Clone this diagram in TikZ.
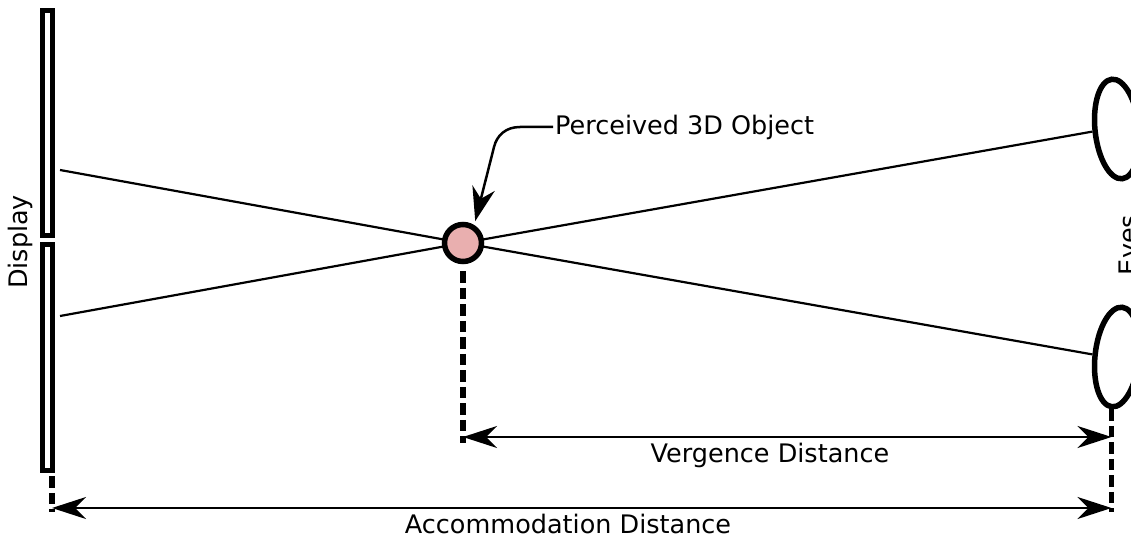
\documentclass[tikz,border=0pt]{standalone}
\usepackage{fontspec}
\setmainfont{DejaVu Sans}
\usetikzlibrary{arrows.meta, shapes.geometric}
\definecolor{objpink}{RGB}{233,175,175}

\begin{document}
\begin{tikzpicture}[x=1pt, y=-1pt, font=\fontsize{25.5}{30}\selectfont]
        \tikzset{
            panel/.style={draw=black, fill=white, line width=5.5pt, minimum width=10pt, inner sep=0pt},
            eye/.style={ellipse, draw=black, fill=white, line width=5.5pt, minimum width=44pt, minimum height=100pt, inner sep=0pt},
            object/.style={circle, draw=black, fill=objpink, line width=5.5pt, minimum size=37pt, inner sep=0pt},
            ray/.style={draw=black, line width=2.2pt},
            guide/.style={draw=black, line width=5.5pt, dash pattern=on 11.5pt off 5pt},
            measure/.style={line width=2.2pt, {Stealth[length=34pt, width=22pt, inset=11pt]}-{Stealth[length=34pt, width=22pt, inset=11pt]}},
            callout/.style={line width=2.5pt, -{Stealth[length=34pt, width=23pt, inset=11pt]}}
        }
        \useasboundingbox (0,0) rectangle (1131,540);

        \node[panel, minimum height=225pt] (dispU) at (47.5,123) {};
        \node[panel, minimum height=226pt] (dispL) at (47.5,357.5) {};
        \node[rotate=90] (dispLbl) at (20,242) {Display};

        \node[eye, rotate=6] (eyeU) at (1117,129) {};
        \node[eye, rotate=-6] (eyeL) at (1117,357) {};
        \node[rotate=90, anchor=base] (eyeLbl) at (1137,245) {Eyes};

        \coordinate (srcU) at (60,170);
        \coordinate (srcL) at (60,316);
        \coordinate (focus) at (463,243);
        \draw[ray] (srcU) -- (focus) -- (eyeL.west);
        \draw[ray] (srcL) -- (focus) -- (eyeU.west);
        \node[object] (obj) at (focus) {};

        \node[anchor=west, inner sep=2pt] (objLbl) at (553,127) {Perceived 3D Object};
        \draw[callout, shorten >=4pt] (objLbl.west) -- (520,127) .. controls (506,127) and (497,135) .. (494,147) -- (obj.58);

        \coordinate (vergA) at (463,437);
        \coordinate (vergFoot) at (463,443);
        \coordinate (vergB) at (eyeL.south |- vergA);
        \coordinate (eyeFoot) at (eyeL.south |- 0,512);
        \draw[guide, shorten <=7pt] (obj.south) -- (vergFoot);
        \draw[guide] (eyeL.south) -- (eyeFoot);
        \draw[measure] (vergA) -- (vergB);
        \node (vergLbl) at (770,455) {Vergence Distance};

        \coordinate (accA) at (52,508);
        \coordinate (accB) at (eyeFoot |- accA);
        \coordinate (dispFoot) at (52,512);
        \draw[guide, shorten <=3pt] (dispL.south -| accA) -- (dispFoot);
        \draw[measure] (accA) -- (accB);
        \node (accLbl) at (568,524) {Accommodation Distance};
    \end{tikzpicture}
\end{document}
